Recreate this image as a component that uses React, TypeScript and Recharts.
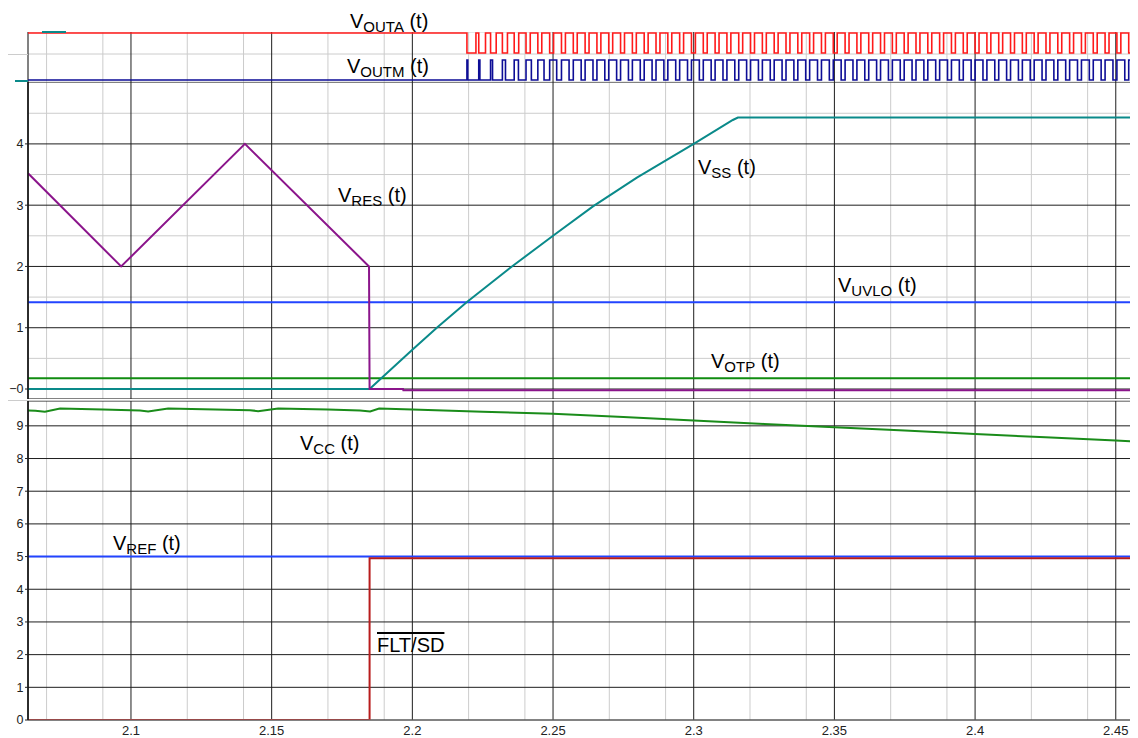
import React from "react";
import { LineChart, Line, XAxis, YAxis, CartesianGrid } from "recharts";

const T_START = 2.0634;
const T_END = 2.4579;

// x grid / tick labels
const majorTimes = [2.1, 2.15, 2.2, 2.25, 2.3, 2.35, 2.4, 2.45];
const minorTimes = [
  2.07, 2.08, 2.09, 2.11, 2.12, 2.13, 2.14, 2.16, 2.17, 2.18, 2.19, 2.21, 2.22,
  2.23, 2.24, 2.26, 2.27, 2.28, 2.29, 2.31, 2.32, 2.33, 2.34, 2.36, 2.37, 2.38,
  2.39, 2.41, 2.42, 2.43, 2.44,
];

// y ticks
const midTicks = [0, 1, 2, 3, 4];
const midHalfTicks = [0.5, 1.5, 2.5, 3.5, 4.5];
const lowTicks = [0, 1, 2, 3, 4, 5, 6, 7, 8, 9];
const topSplit = [1.4];

// switching outputs
const pulseStarts = [
  2.2194, 2.2236, 2.2278, 2.232, 2.2362, 2.2404, 2.2446, 2.2488, 2.253, 2.2572,
  2.2614, 2.2656, 2.2698, 2.274, 2.2782, 2.2824, 2.2866, 2.2908, 2.295, 2.2992,
  2.3034, 2.3076, 2.3118, 2.316, 2.3202, 2.3244, 2.3286, 2.3328, 2.337, 2.3412,
  2.3454, 2.3496, 2.3538, 2.358, 2.3622, 2.3664, 2.3706, 2.3748, 2.379, 2.3832,
  2.3874, 2.3916, 2.3958, 2.4, 2.4042, 2.4084, 2.4126, 2.4168, 2.421, 2.4252,
  2.4294, 2.4336, 2.4378, 2.442, 2.4462, 2.4504, 2.4546,
];
const voutmHigh = [
  0.0003, 0.0004, 0.0007, 0.0011, 0.0015, 0.0019, 0.0022, 0.0025, 0.0027, 0.0028,
  0.0028, 0.0028, 0.0028, 0.0028, 0.0028, 0.0028, 0.0028, 0.0028, 0.0028, 0.0028,
  0.0028, 0.0028, 0.0028, 0.0028, 0.0028, 0.0028, 0.0028, 0.0028, 0.0028, 0.0028,
  0.0028, 0.0028, 0.0028, 0.0028, 0.0028, 0.0028, 0.0028, 0.0028, 0.0028, 0.0028,
  0.0028, 0.0028, 0.0028, 0.0028, 0.0028, 0.0028, 0.0028, 0.0028, 0.0028, 0.0028,
  0.0028, 0.0028, 0.0028, 0.0028, 0.0028, 0.0028, 0.0028,
];
const voutaLow = [
  0.0032, 0.0024, 0.002, 0.0018, 0.0016, 0.0015, 0.0014, 0.0014, 0.0014, 0.0014,
  0.0014, 0.0014, 0.0014, 0.0014, 0.0014, 0.0014, 0.0014, 0.0014, 0.0014, 0.0014,
  0.0014, 0.0014, 0.0014, 0.0014, 0.0014, 0.0014, 0.0014, 0.0014, 0.0014, 0.0014,
  0.0014, 0.0014, 0.0014, 0.0014, 0.0014, 0.0014, 0.0014, 0.0014, 0.0014, 0.0014,
  0.0014, 0.0014, 0.0014, 0.0014, 0.0014, 0.0014, 0.0014, 0.0014, 0.0014, 0.0014,
  0.0014, 0.0014, 0.0014, 0.0014, 0.0014, 0.0014, 0.0014,
];

// middle panel
const vresT = [2.0634, 2.0965, 2.1405, 2.1846, 2.1848, 2.1967, 2.1968, 2.4579];
const vresV = [3.52, 2.0, 4.0, 2.0, 0.0, 0.0, -0.02, -0.02];
const vssT = [2.0634, 2.1848, 2.2, 2.2087, 2.2194, 2.2354, 2.25, 2.2642, 2.2798, 2.3, 2.3139, 2.3157, 2.4579];
const vssV = [0, 0, 0.64, 1.0, 1.42, 2.0, 2.5, 2.98, 3.45, 4.0, 4.39, 4.43, 4.43];
const uvloT = [2.0634, 2.4579];
const uvloV = [1.415, 1.415];
const otpT = [2.0634, 2.4579];
const otpV = [0.175, 0.175];

// lower panel
const vccT = [
  2.0634, 2.066, 2.0694, 2.0748, 2.09, 2.1032, 2.1061, 2.1132, 2.13, 2.1423,
  2.1452, 2.1523, 2.17, 2.1814, 2.185, 2.1882, 2.2, 2.225, 2.25, 2.275, 2.3,
  2.325, 2.35, 2.375, 2.4, 2.425, 2.45, 2.4579,
];
const vccV = [
  9.47, 9.46, 9.43, 9.53, 9.5, 9.47, 9.44, 9.53, 9.5, 9.48,
  9.45, 9.53, 9.5, 9.47, 9.44, 9.53, 9.5, 9.43, 9.37, 9.27, 9.16,
  9.06, 8.96, 8.86, 8.75, 8.65, 8.55, 8.52,
];
const vrefT = [2.0634, 2.4579];
const vrefV = [5.0, 5.0];
const fltT = [2.0634, 2.1848, 2.1848, 2.4579];
const fltV = [0, 0, 4.95, 4.95];

type Pt = { t: number; v: number };
const zip = (ts: number[], vs: number[]): Pt[] => ts.map((t, i) => ({ t, v: vs[i] }));

function pulseTrain(base: number, pulse: number, starts: number[], widths: number[]): Pt[] {
  const pts: Pt[] = [{ t: T_START, v: base }];
  starts.forEach((s, i) => {
    const e = s + widths[i];
    pts.push({ t: s, v: base }, { t: s, v: pulse }, { t: e, v: pulse }, { t: e, v: base });
  });
  pts.push({ t: T_END, v: base });
  return pts;
}

const FONT = "'Liberation Sans', Arial, Helvetica, sans-serif";
const MINOR = "#cccccc";
const MAJOR = "#1e1e1e";
const W = 1130;
const tickStyle = { fill: "#222", fontSize: 13, fontFamily: FONT };
const yTickStyle = { fill: "#222", fontSize: 12.5, fontFamily: FONT };
const fmtT = (v: number) => String(Number(v.toFixed(2)));

function line(key: string, data: Pt[], color: string, width = 2) {
  return (
    <Line
      key={key}
      data={data}
      dataKey="v"
      xAxisId="major"
      yAxisId="main"
      type="linear"
      stroke={color}
      strokeWidth={width}
      dot={false}
      activeDot={false}
      isAnimationActive={false}
    />
  );
}

function xAxes(showLabels: boolean) {
  return [
    <XAxis
      key="minor"
      xAxisId="minor"
      dataKey="t"
      type="number"
      domain={[T_START, T_END]}
      allowDataOverflow
      ticks={minorTimes}
      hide
    />,
    <XAxis
      key="major"
      xAxisId="major"
      dataKey="t"
      type="number"
      domain={[T_START, T_END]}
      allowDataOverflow
      ticks={majorTimes}
      hide={!showLabels}
      height={18}
      tickFormatter={fmtT}
      tick={tickStyle}
      tickLine={false}
      tickSize={0}
      tickMargin={6}
      axisLine={{ stroke: "#777" }}
    />,
  ];
}

function Sub({ children }: { children: React.ReactNode }) {
  return <span style={{ fontSize: 15, position: "relative", top: 4 }}>{children}</span>;
}

function Lbl({ x, y, children, over }: { x: number; y: number; children: React.ReactNode; over?: boolean }) {
  return (
    <div
      style={{
        position: "absolute",
        left: x,
        top: y,
        fontSize: 20,
        lineHeight: "20px",
        fontFamily: FONT,
        color: "#000",
        whiteSpace: "nowrap",
        textDecoration: over ? "overline" : "none",
      }}
    >
      {children}
    </div>
  );
}

export default function App() {
  return (
    <div style={{ position: "relative", width: W, height: 730, fontFamily: FONT, background: "#fff" }}>
      {/* top panel: switching outputs */}
      <div style={{ position: "absolute", left: 0, top: 24 }}>
        <LineChart width={W} height={50} margin={{ top: 0, right: 0, bottom: 0, left: 20 }}>
          {xAxes(false)}
          <YAxis yAxisId="main" type="number" domain={[0, 2.5]} allowDataOverflow hide />
          <YAxis yAxisId="minor" type="number" domain={[0, 2.5]} allowDataOverflow ticks={topSplit} hide />
          <CartesianGrid xAxisId="minor" yAxisId="minor" stroke={MINOR} />
          <CartesianGrid xAxisId="major" yAxisId="main" stroke={MAJOR} horizontal={false} />
          {line("vouta", pulseTrain(2.45, 1.45, pulseStarts, voutaLow), "#ff1a1a", 1.6)}
          {line("voutm", pulseTrain(0.1, 1.1, pulseStarts, voutmHigh), "#0d0d96", 1.6)}
        </LineChart>
      </div>

      {/* middle panel */}
      <div style={{ position: "absolute", left: 0, top: 74 }}>
        <LineChart width={W} height={317} margin={{ top: 0, right: 0, bottom: 0, left: 0 }}>
          {xAxes(false)}
          <YAxis
            yAxisId="main"
            type="number"
            domain={[-0.163, 5.01]}
            allowDataOverflow
            ticks={midTicks}
            width={20}
            tick={yTickStyle}
            tickSize={3}
            tickMargin={1.5}
            tickLine={{ stroke: "#222" }}
            axisLine={{ stroke: "#111", strokeWidth: 1.5 }}
            tickFormatter={(v: number) => (v === 0 ? "\u22120" : String(v))}
          />
          <YAxis yAxisId="minor" type="number" domain={[-0.163, 5.01]} allowDataOverflow ticks={midHalfTicks} hide />
          <CartesianGrid xAxisId="minor" yAxisId="minor" stroke={MINOR} />
          <CartesianGrid xAxisId="major" yAxisId="main" stroke={MAJOR} />
          {line("uvlo", zip(uvloT, uvloV), "#2244ff")}
          {line("otp", zip(otpT, otpV), "#108c10")}
          {line("vss", zip(vssT, vssV), "#0a8a8a")}
          {line("vres", zip(vresT, vresV), "#8b158b")}
        </LineChart>
      </div>

      {/* lower panel */}
      <div style={{ position: "absolute", left: 0, top: 393 }}>
        <LineChart width={W} height={337} margin={{ top: 0, right: 0, bottom: 0, left: 0 }}>
          {xAxes(true)}
          <YAxis
            yAxisId="main"
            type="number"
            domain={[0, 9.76]}
            allowDataOverflow
            ticks={lowTicks}
            width={20}
            tick={yTickStyle}
            tickSize={3}
            tickMargin={1.5}
            tickLine={{ stroke: "#222" }}
            axisLine={{ stroke: "#111", strokeWidth: 1.5 }}
          />
          <CartesianGrid xAxisId="minor" yAxisId="main" stroke={MINOR} horizontal={false} />
          <CartesianGrid xAxisId="major" yAxisId="main" stroke={MAJOR} />
          {line("vcc", zip(vccT, vccV), "#1a8c1a")}
          {line("vref", zip(vrefT, vrefV), "#2244ff")}
          {line("flt", zip(fltT, fltV), "#b81c1c")}
        </LineChart>
      </div>

      {/* panel separators and stray legend marks */}
      <div style={{ position: "absolute", left: 0, top: 46, width: 20, height: 1, background: MINOR }} />
      <div style={{ position: "absolute", left: 0, top: 392, width: W, height: 1, background: MINOR }} />
      <div style={{ position: "absolute", left: 34, top: 23, width: 24, height: 2, background: "#0a8a8a" }} />
      <div style={{ position: "absolute", left: 7, top: 72, width: 13, height: 2, background: "#0a8a8a" }} />

      <Lbl x={342} y={3}>V<Sub>OUTA</Sub> (t)</Lbl>
      <Lbl x={339} y={48}>V<Sub>OUTM</Sub> (t)</Lbl>
      <Lbl x={330} y={177}>V<Sub>RES</Sub> (t)</Lbl>
      <Lbl x={690} y={149}>V<Sub>SS</Sub> (t)</Lbl>
      <Lbl x={830} y={267}>V<Sub>UVLO</Sub> (t)</Lbl>
      <Lbl x={703} y={343}>V<Sub>OTP</Sub> (t)</Lbl>
      <Lbl x={292} y={425}>V<Sub>CC</Sub> (t)</Lbl>
      <Lbl x={105} y={525}>V<Sub>REF</Sub> (t)</Lbl>
      <Lbl x={369} y={627} over>FLT/SD</Lbl>
    </div>
  );
}
